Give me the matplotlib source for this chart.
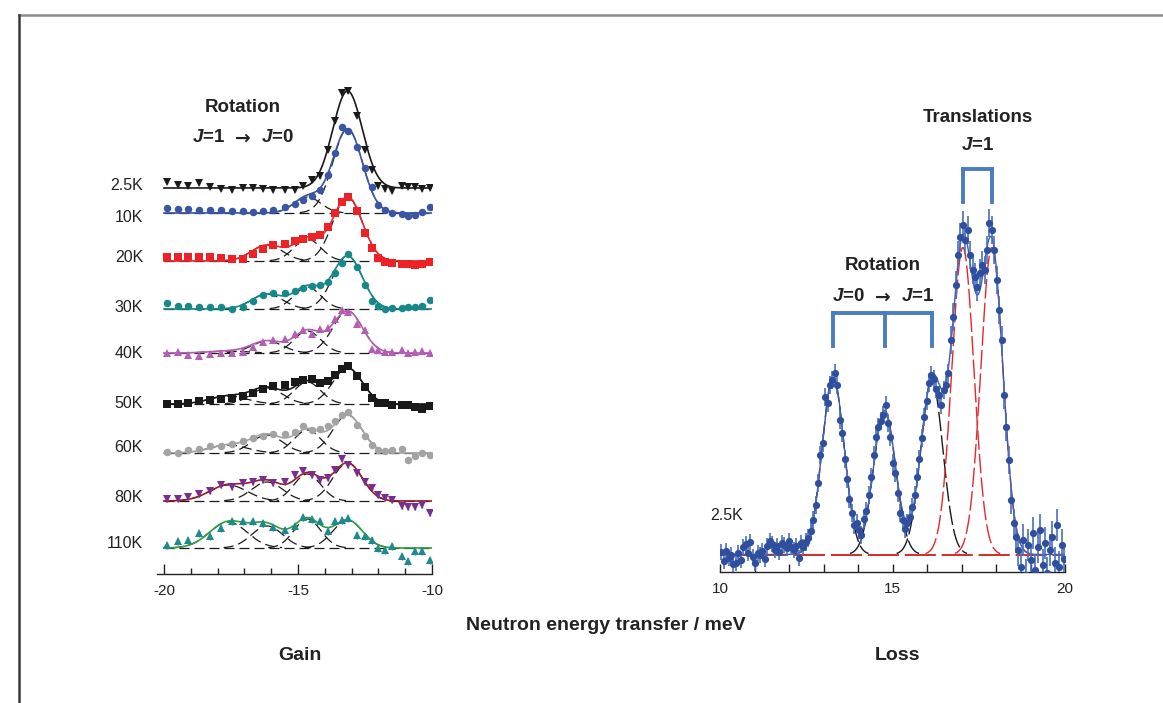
import numpy as np
import matplotlib
matplotlib.use("Agg")
import matplotlib.pyplot as plt
from matplotlib.lines import Line2D
from matplotlib.ticker import MultipleLocator, FixedLocator

plt.rcParams['font.family'] = ['Liberation Sans', 'DejaVu Sans']
plt.rcParams['axes.unicode_minus'] = False
plt.rcParams['mathtext.fontset'] = 'custom'
plt.rcParams['mathtext.it'] = 'Liberation Sans:italic:bold'
plt.rcParams['mathtext.rm'] = 'Liberation Sans:bold'
plt.rcParams['mathtext.bf'] = 'Liberation Sans:bold'

# ---------------- energy-gain side: J=1 -> J=0 rotational line ----------------
temperatures = ["2.5K", "10K", "20K", "30K", "40K", "50K", "60K", "80K", "110K"]

gain_energy = [-19.90, -19.47, -19.09, -18.68, -18.28, -17.88, -17.47, -17.06,
               -16.67, -16.29, -15.92, -15.49, -15.11, -14.80, -14.49, -14.18,
               -13.87, -13.62, -13.37, -13.12, -12.81, -12.50, -12.25, -12.00,
               -11.75, -11.50, -11.13, -10.88, -10.63, -10.38, -10.07]

gain_2p5K = [6, 3, 2, 5, 1, -1, -2, 0, 0, -1, -2, -2, -2, 2, 8, 12, 38, 67, 95, 97,
             72, 38, 18, 2, -1, -3, 2, 1, 1, -1, 0]
gain_10K = [5, 4, 4, 3, 3, 3, 2, 2, 1, 2, 3, 6, 9, 13, 17, 23, 38, 60, 86, 82,
            66, 45, 26, 8, 3, 0, -1, -3, -2, 1, 6]
gain_20K = [4, 4, 4, 4, 4, 3, 2, 2, 7, 12, 16, 17, 20, 22, 24, 26, 34, 48, 59, 64,
            50, 28, 13, 3, -1, -2, -3, -3, -4, -3, -1]
gain_30K = [6, 3, 3, 2, 2, 2, 0, 2, 8, 14, 16, 16, 18, 21, 23, 24, 27, 36, 46, 55,
            42, 24, 8, 3, 0, 1, 1, 2, 2, 3, 9]
gain_40K = [0, 1, -2, -3, -1, 0, 0, 1, 6, 11, 13, 14, 19, 23, 19, 24, 25, 34, 43, 41,
            29, 23, 4, 3, 1, 1, 3, 0, 1, 2, 0]
gain_50K = [0, 0, 1, 3, 4, 5, 6, 8, 11, 15, 18, 19, 22, 24, 25, 21, 23, 29, 35, 38,
            28, 17, 6, 1, 1, -1, -1, -1, -3, -5, -2]
gain_60K = [1, 0, 3, 4, 7, 7, 9, 12, 15, 17, 19, 19, 21, 27, 23, 24, 27, 32, 38, 41,
            28, 17, 8, 3, 2, 3, 4, -7, -3, 0, -2]
gain_80K = [2, 2, 4, 7, 10, 16, 14, 18, 19, 21, 18, 19, 26, 30, 26, 21, 23, 31, 42, 36,
            28, 19, 13, 6, 3, 1, -5, -6, -6, -4, -12]
gain_110K = [3, 7, 8, 15, 12, 20, 27, 27, 27, 25, 21, 18, 22, 31, 29, 27, 17, 27, 28, 30,
             13, 12, 8, 0, -2, 2, -8, -13, -3, -3, -12]
gain_errors = [2, 1.5, 2, 2, 2.5, 2.5, 2.5, 3, 3.5]

# Gaussian components of the gain-side fits
gain_centers = [-17.6, -16.15, -14.65, -13.15]
gain_widths = [0.70, 0.58, 0.50, 0.55]
gain_amplitudes = [
    [0, 0, 0, 97],
    [0, 0, 16, 84],
    [0, 16, 22, 64],
    [0, 15, 22, 53],
    [2, 12, 22, 42],
    [8, 16, 22, 36],
    [8, 18, 23, 38],
    [16, 19, 27, 38],
    [26, 22, 29, 28],
]

# vertical stacking of the spectra and label nudges
gain_offsets = [386, 361, 313, 265, 221, 170, 121, 73, 26]
label_nudge = [2, -5, 3, 2, 0, 1, 5, 4, 5]

marker_colors = ['#1a1a1a', '#3a55a4', '#ec2227', '#17888a', '#b35db5',
                 '#1a1a1a', '#a3a3a3', '#7b2d8e', '#1f8a8c']
line_colors = ['#1a1a1a', '#3a55a4', '#ec2227', '#17888a', '#b35db5',
               '#1a1a1a', '#a3a3a3', '#9b1c1c', '#2e9e3e']
markers = ['v', 'o', 's', 'o', '^', 's', 'o', 'v', '^']

gain_series = [gain_2p5K, gain_10K, gain_20K, gain_30K, gain_40K,
               gain_50K, gain_60K, gain_80K, gain_110K]

# ---------------- energy-loss side at 2.5 K ----------------
loss_energy = [
    10.04, 10.11, 10.18, 10.25, 10.32, 10.39, 10.46, 10.53, 10.60, 10.67,
    10.74, 10.81, 10.88, 10.95, 11.02, 11.09, 11.16, 11.23, 11.30, 11.37,
    11.44, 11.51, 11.58, 11.65, 11.72, 11.79, 11.86, 11.93, 12.00, 12.07,
    12.14, 12.21, 12.28, 12.35, 12.42, 12.49, 12.56, 12.63, 12.70, 12.77,
    12.84, 12.91, 12.98, 13.05, 13.12, 13.19, 13.26, 13.33, 13.40, 13.47,
    13.54, 13.61, 13.68, 13.75, 13.82, 13.89, 13.96, 14.03, 14.10, 14.17,
    14.24, 14.31, 14.38, 14.45, 14.52, 14.59, 14.66, 14.73, 14.80, 14.87,
    14.94, 15.01, 15.08, 15.15, 15.22, 15.29, 15.36, 15.43, 15.50, 15.57,
    15.64, 15.71, 15.78, 15.85, 15.92, 15.99, 16.06, 16.13, 16.20, 16.27,
    16.34, 16.41, 16.48, 16.55, 16.62, 16.69, 16.76, 16.83, 16.90, 16.97,
    17.04, 17.11, 17.18, 17.25, 17.32, 17.39, 17.46, 17.53, 17.60, 17.67,
    17.74, 17.81, 17.88, 17.95, 18.02, 18.09, 18.16, 18.23, 18.30, 18.37,
    18.44, 18.51, 18.58, 18.65, 18.72, 18.79, 18.86, 18.93, 19.00, 19.07,
    19.14, 19.21, 19.28, 19.35, 19.42, 19.49, 19.56, 19.63, 19.70, 19.77,
    19.84, 19.91, 19.98]
loss_intensity = [
    3, -6, 4, -3, 0, -9, -8, 2, -5, 8,
    11, 2, 13, -2, -8, 2, 0, 4, -4, 9,
    14, 11, 5, 9, 3, 12, 10, 7, 14, 8,
    5, 9, -3, 12, 8, 13, 17, 24, 35, 50,
    72, 100, 112, 158, 152, 170, 175, 182, 170, 135,
    122, 96, 76, 56, 42, 30, 32, 25, 20, 36,
    44, 60, 78, 100, 118, 128, 134, 140, 150, 132,
    118, 92, 82, 62, 42, 35, 26, 32, 38, 48,
    60, 78, 96, 117, 138, 154, 172, 180, 176, 166,
    160, 150, 165, 170, 182, 215, 238, 270, 300, 318,
    330, 315, 325, 300, 285, 278, 268, 282, 290, 285,
    305, 332, 325, 305, 275, 245, 215, 160, 128, 95,
    55, 32, 18, 5, -12, 15, -20, 10, -5, 22,
    -15, 8, 25, -10, 12, -18, 5, 18, -8, 30,
    -12, 10, -4]
loss_errors = [8] * 35 + [9] * 60 + [14] * 27 + [16] * 21

loss_centers = [13.28, 14.77, 16.14, 17.04, 17.88]
loss_widths = [0.32, 0.32, 0.32, 0.32, 0.32]
loss_amplitudes = [177, 144, 174, 307, 307]
loss_kinds = ["rotation", "rotation", "rotation", "translation", "translation"]


def gaussian(x, amp, cen, wid):
    return amp * np.exp(-(x - cen) ** 2 / (2.0 * wid ** 2))


def transition_label(ax, x, y, j_from, j_to, size=13.5):
    """Write 'J=a -> J=b' centred at (x, y) with a bold arrow."""
    style = dict(fontsize=size, fontweight='bold', color='#222222', va='center')
    ax.annotate("\u2192", (x, y), xytext=(0, 0), textcoords='offset points',
                ha='center', family='DejaVu Sans', **style)
    ax.annotate(f"$J$={j_from}", (x, y), xytext=(-13, 0), textcoords='offset points',
                ha='right', **style)
    ax.annotate(f"$J$={j_to}", (x, y), xytext=(13, 0), textcoords='offset points',
                ha='left', **style)


W, H = 1163, 703
fig = plt.figure(figsize=(W / 100, H / 100), dpi=100)
fig.patch.set_facecolor('white')

# outer frame lines
fig.add_artist(Line2D([19 / W, 1.0], [1 - 15 / H, 1 - 15 / H], transform=fig.transFigure,
                      color='#8c8c8c', lw=1.8))
fig.add_artist(Line2D([19 / W, 19 / W], [0.0, 1 - 15 / H], transform=fig.transFigure,
                      color='#3a3a3a', lw=1.8))

# ---------------- left panel ----------------
axL = fig.add_axes([157 / W, 129 / H, 275 / W, 494 / H])
axL.set_xlim(-20.26, -10.0)
axL.set_ylim(0, 494)
for s in ['top', 'right', 'left']:
    axL.spines[s].set_visible(False)
axL.spines['bottom'].set_linewidth(1.0)
axL.spines['bottom'].set_color('#222222')
axL.set_yticks([])
axL.xaxis.set_major_locator(FixedLocator([-20, -15, -10]))
axL.xaxis.set_minor_locator(MultipleLocator(1))
axL.tick_params(axis='x', which='major', direction='in', length=7.5, width=1.0,
                labelsize=11, pad=7, colors='#222222')
axL.tick_params(axis='x', which='minor', direction='in', length=4.5, width=1.0,
                colors='#222222')

xfit_gain = np.linspace(-20.0, -10.0, 500)
gx = np.array(gain_energy)
dash_style = (0, (8, 4))

for idx, (label, series) in enumerate(zip(temperatures, gain_series)):
    off = gain_offsets[idx]
    amps = gain_amplitudes[idx]
    comps = [gaussian(xfit_gain, a, c, w) for a, c, w in zip(amps, gain_centers, gain_widths)]
    total = np.sum(comps, axis=0)
    if idx > 0:
        axL.plot(xfit_gain, np.full_like(xfit_gain, off), color='#1a1a1a', lw=0.9,
                 linestyle=dash_style, zorder=2)
        for comp, a in zip(comps, amps):
            if a <= 0:
                continue
            comp_vis = np.where(comp > 0.4, comp + off, np.nan)
            axL.plot(xfit_gain, comp_vis, color='#1a1a1a', lw=0.9,
                     linestyle=dash_style, zorder=2)
    axL.plot(xfit_gain, total + off, color=line_colors[idx], lw=1.2, zorder=3)
    axL.errorbar(gx, np.array(series) + off, yerr=gain_errors[idx], fmt=markers[idx],
                 color=marker_colors[idx], ms=5.4, mew=0, elinewidth=1.0, capsize=2.2,
                 capthick=1.0, zorder=4)
    axL.text(-20.78, off + label_nudge[idx], label, ha='right', va='center',
             fontsize=11.5, color='#222222', clip_on=False)

axL.text(-17.05, 467, "Rotation", ha='center', va='center', fontsize=13.5,
         fontweight='bold', color='#222222')
transition_label(axL, -17.05, 436, 1, 0)

# ---------------- right panel ----------------
axR = fig.add_axes([720 / W, (H - 572.3) / H, 345 / W, 492.3 / H])
axR.set_xlim(10, 20)
axR.set_ylim(-17.8, 474.5)
for s in ['top', 'right', 'left']:
    axR.spines[s].set_visible(False)
axR.spines['bottom'].set_linewidth(1.0)
axR.spines['bottom'].set_color('#222222')
axR.set_yticks([])
axR.xaxis.set_major_locator(FixedLocator([10, 15, 20]))
axR.xaxis.set_minor_locator(MultipleLocator(1))
axR.tick_params(axis='x', which='major', direction='in', length=6, width=1.0,
                labelsize=11, pad=7, colors='#222222')
axR.tick_params(axis='x', which='minor', direction='in', length=6, width=1.0,
                colors='#222222')

xfit_loss = np.linspace(10.0, 20.0, 800)
loss_comps = [gaussian(xfit_loss, a, c, w)
              for a, c, w in zip(loss_amplitudes, loss_centers, loss_widths)]
loss_total = np.sum(loss_comps, axis=0)

for comp, kind in zip(loss_comps, loss_kinds):
    col = '#1a1a1a' if kind == "rotation" else '#e8262b'
    comp_vis = np.where(comp > 1.0, comp, np.nan)
    axR.plot(xfit_loss, comp_vis, color=col, lw=1.0, linestyle=(0, (14, 3)), zorder=2)
axR.plot(xfit_loss, np.zeros_like(xfit_loss), color='#d42a2a', lw=1.4,
         linestyle=(0, (16, 3)), zorder=2.5)
axR.plot(xfit_loss, loss_total, color='#3b5bab', lw=1.0, zorder=3)
axR.errorbar(loss_energy, loss_intensity, yerr=loss_errors, fmt='o', color='#2f4f9e',
             ecolor='#4a6fbf', ms=5.2, mew=0, elinewidth=1.2, capsize=3.2,
             capthick=1.2, zorder=4)

# brackets marking the assigned peaks
bracket_color = '#4a7cc4'
rot_c = [c for c, k in zip(loss_centers, loss_kinds) if k == "rotation"]
tr_c = [c for c, k in zip(loss_centers, loss_kinds) if k == "translation"]
axR.plot([rot_c[0], rot_c[-1]], [241.5, 241.5], color=bracket_color, lw=2.8,
         solid_capstyle='projecting', zorder=5)
for c in rot_c:
    axR.plot([c, c], [241.5, 208.5], color=bracket_color, lw=2.8, zorder=5)
axR.plot([tr_c[0], tr_c[-1]], [385.5, 385.5], color=bracket_color, lw=2.8,
         solid_capstyle='projecting', zorder=5)
for c in tr_c:
    axR.plot([c, c], [385.5, 352.5], color=bracket_color, lw=2.8, zorder=5)

axR.text(17.48, 436.5, "Translations", ha='center', va='center', fontsize=13.5,
         fontweight='bold', color='#222222')
axR.text(17.46, 409.5, "$J$=1", ha='center', va='center', fontsize=13.5,
         fontweight='bold', color='#222222')
axR.text(14.72, 288.5, "Rotation", ha='center', va='center', fontsize=13.5,
         fontweight='bold', color='#222222')
transition_label(axR, 14.72, 257.5, 0, 1)
axR.text(9.71, 39.5, "2.5K", ha='left', va='center', fontsize=11.5, color='#222222')

# shared axis title and side labels
fig.text(606 / W, 1 - 626 / H, "Neutron energy transfer / meV", ha='center', va='center',
         fontsize=14, fontweight='bold', color='#222222')
fig.text(300 / W, 1 - 655 / H, "Gain", ha='center', va='center',
         fontsize=14, fontweight='bold', color='#222222')
fig.text(897 / W, 1 - 655 / H, "Loss", ha='center', va='center',
         fontsize=14, fontweight='bold', color='#222222')

fig.savefig("out.png", dpi=100, facecolor='white')
